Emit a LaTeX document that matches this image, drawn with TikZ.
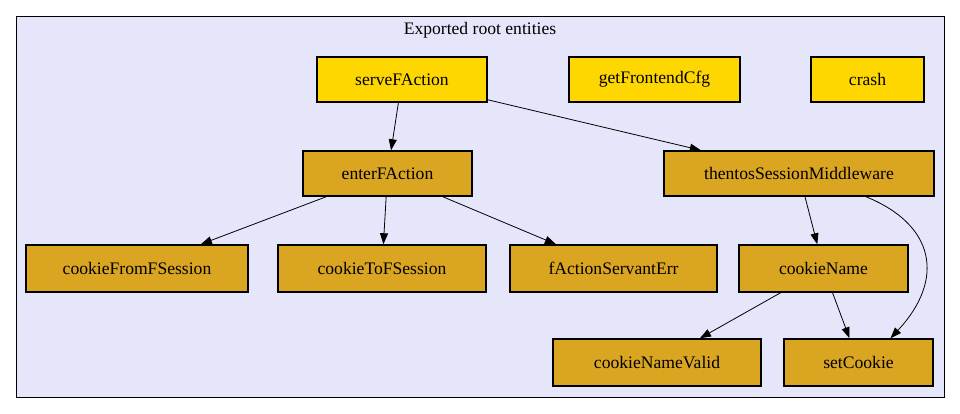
\documentclass[tikz,border=0pt]{standalone}
\usepackage{fontspec}
\setmainfont{Liberation Serif}
\usetikzlibrary{arrows.meta}
\definecolor{lav}{HTML}{E6E6FA}
\definecolor{goldc}{HTML}{FFD700}
\definecolor{goldenrodc}{HTML}{DAA520}
\begin{document}
\begin{tikzpicture}[x=1pt,y=-1pt,
  ent/.style={draw=black, line width=1.5pt, inner sep=0pt, minimum height=45pt, font=\fontsize{17.6}{19}\selectfont},
  rootent/.style={ent, fill=goldc},
  subent/.style={ent, fill=goldenrodc},
  edge/.style={draw=black, line width=0.8pt, -{Triangle[length=11pt,width=8pt]}}]
\fill[white] (0,0) rectangle (960,413);
\useasboundingbox (0,0) rectangle (960,413);
\draw[fill=lav, line width=0.9pt] (16,16) rectangle (944,397);
\node[font=\fontsize{17.6}{19}\selectfont] (title) at (480,30) {Exported root entities};
\node[rootent, minimum width=170pt] (sf) at (402,79.5) {serveFAction};
\node[rootent, minimum width=171pt] (gf) at (654.5,79.5) {getFrontendCfg};
\node[rootent, minimum width=113pt] (cr) at (867.5,79.5) {crash};
\node[subent, minimum width=169pt] (ef) at (387.5,173.5) {enterFAction};
\node[subent, minimum width=270pt] (ts) at (799,173.5) {thentosSessionMiddleware};
\node[subent, minimum width=222pt, minimum height=47pt] (cf) at (137,268.5) {cookieFromFSession};
\node[subent, minimum width=208pt, minimum height=47pt] (ct) at (382,268.5) {cookieToFSession};
\node[subent, minimum width=207pt, minimum height=47pt] (fa) at (613.5,268.5) {fActionServantErr};
\node[subent, minimum width=169pt, minimum height=47pt] (cn) at (823.5,268.5) {cookieName};
\node[subent, minimum width=208pt, minimum height=47pt] (cv) at (657,362.5) {cookieNameValid};
\node[subent, minimum width=149pt, minimum height=47pt] (sc) at (858.5,362.5) {setCookie};
\draw[edge] (sf) -- (ef);
\draw[edge] (sf) -- (ts);
\draw[edge] (ef) -- (cf);
\draw[edge] (ef) -- (ct);
\draw[edge] (ef) -- (fa);
\draw[edge] (ts) -- (cn);
\draw[edge] (cn) -- (cv);
\draw[edge] (cn) -- (sc);
\draw[edge] ([xshift=67pt]ts.south) .. controls +(69,28) and +(55,-59) .. ([xshift=32pt]sc.north);
\end{tikzpicture}
\end{document}
